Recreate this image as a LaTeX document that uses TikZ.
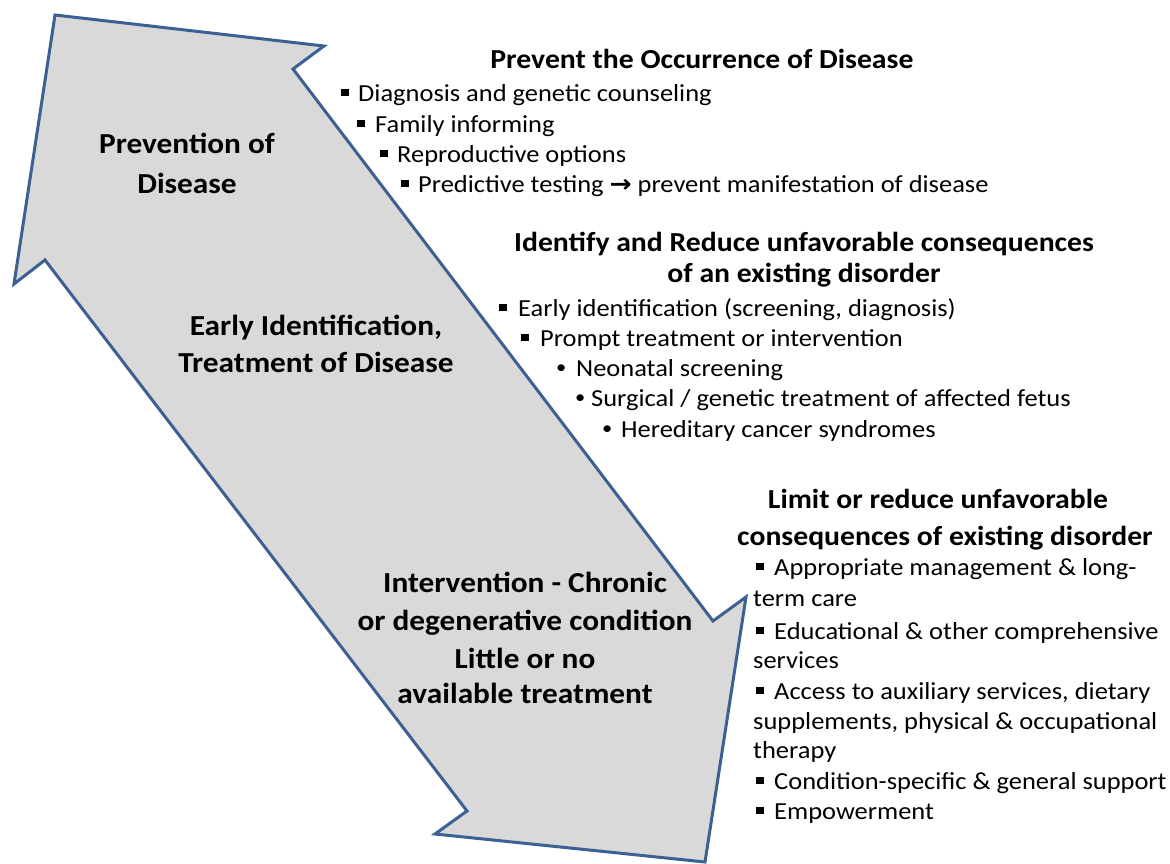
\documentclass[tikz,border=0pt]{standalone}
\usepackage{fontspec}
\setmainfont{Carlito}[FakeStretch=1.08]
\newfontfamily\arrowfont{DejaVu Sans}[FakeStretch=1.08]
\definecolor{arrowfill}{HTML}{D9D9D9}
\definecolor{arrowline}{HTML}{3B6091}
% square and round bullets with a fixed gap to the text
\newcommand\sqbul[1]{\makebox[#1][l]{\raisebox{5pt}{\rule{7.5pt}{7.5pt}}}}
\newcommand\rdbul[1]{\makebox[#1][l]{\raisebox{2.5pt}{\fontsize{19}{19}\selectfont\textbullet}}}
\begin{document}
\begin{tikzpicture}[x=1pt,y=-1pt,
  body/.style={anchor=base west,inner sep=0pt,font=\fontsize{24.5}{30}\selectfont},
  head/.style={anchor=base,inner sep=0pt,font=\fontsize{27.5}{32}\selectfont\bfseries},
  label/.style={anchor=base,inner sep=0pt,font=\fontsize{29}{34}\selectfont\bfseries}]
\useasboundingbox (0,0) rectangle (1170,863);

% the double-headed diagonal arrow
\draw[line width=3pt,line join=miter,draw=arrowline,fill=arrowfill]
  (55,15) -- (324,46) -- (293,69) -- (713,621) -- (746,597) -- (705,862)
  -- (435,834) -- (467,811) -- (45,260) -- (14,284) -- cycle;

% labels inside the arrow
\node[label] (p1) at (187,153) {Prevention of};
\node[label] (p2) at (187,193) {Disease};
\node[label] (e1) at (316,335) {Early Identification,};
\node[label] (e2) at (316,372) {Treatment of Disease};
\node[label] (i1) at (525,592) {Intervention - Chronic};
\node[label] (i2) at (525,630) {or degenerative condition};
\node[label] (i3) at (525,668) {Little or no};
\node[label] (i4) at (525,703) {available treatment};

% prevention of occurrence
\node[head] (h1) at (702,68) {Prevent the Occurrence of Disease};
\node[body] (a1) at (341,101) {\sqbul{17pt}Diagnosis and genetic counseling};
\node[body] (a2) at (357,132) {\sqbul{18pt}Family informing};
\node[body] (a3) at (380,162) {\sqbul{17pt}Reproductive options};
\node[body] (a4) at (401,192) {\sqbul{17pt}Predictive testing {\arrowfont\bfseries →} prevent manifestation of disease};

% identification and treatment
\node[head] (h2a) at (804,251) {Identify and Reduce unfavorable consequences};
\node[head] (h2b) at (804,282) {of an existing disorder};
\node[body] (b1) at (499,316) {\sqbul{19pt}Early identification (screening, diagnosis)};
\node[body] (b2) at (521,346) {\sqbul{19pt}Prompt treatment or intervention};
\node[body] (b3) at (556,376) {\rdbul{20pt}Neonatal screening};
\node[body] (b4) at (575,406) {\rdbul{16pt}Surgical / genetic treatment of affected fetus};
\node[body] (b5) at (602,437) {\rdbul{19pt}Hereditary cancer syndromes};

% chronic conditions
\node[head] (h3a) at (938,508) {Limit or reduce unfavorable};
\node[head] (h3b) at (945,545) {consequences of existing disorder};
\node[body] (c1) at (756,575) {\sqbul{18pt}Appropriate management \& long-};
\node[body] (c1b) at (753,606) {term care};
\node[body] (c2) at (756,639) {\sqbul{18pt}Educational \& other comprehensive};
\node[body] (c2b) at (753,668) {services};
\node[body] (c3) at (756,699) {\sqbul{18pt}Access to auxiliary services, dietary};
\node[body] (c3b) at (753,729) {supplements, physical \& occupational};
\node[body] (c3c) at (753,758) {therapy};
\node[body] (c4) at (756,789) {\sqbul{18pt}Condition-specific \& general support};
\node[body] (c5) at (756,819) {\sqbul{18pt}Empowerment};
\end{tikzpicture}
\end{document}
